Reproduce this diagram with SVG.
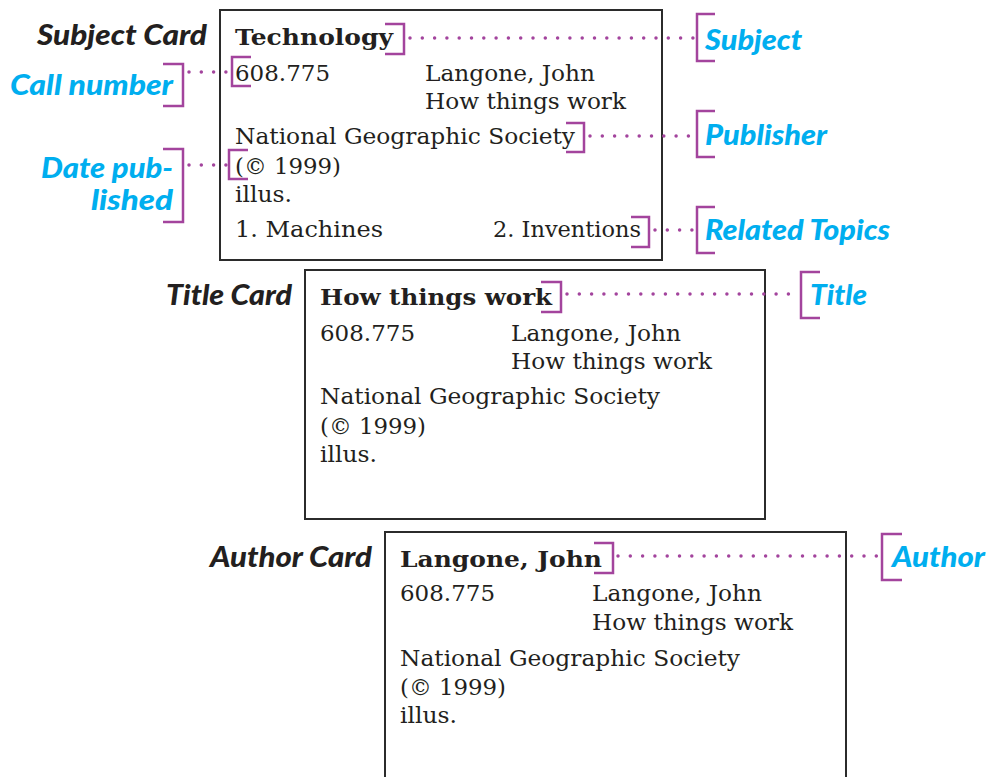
<svg xmlns="http://www.w3.org/2000/svg" width="988" height="777" viewBox="0 0 988 777">
  <style>
    .card { fill: #ffffff; stroke: #2b2b2b; stroke-width: 2; }
    .txt { font-family: "DejaVu Serif", "Liberation Serif", serif; font-size: 22.5px; fill: #231f20; }
    .head { font-family: "DejaVu Serif", "Liberation Serif", serif; font-size: 23px; font-weight: bold; fill: #231f20; }
    .kind { font-family: Lato, "Open Sans", sans-serif; font-size: 29px; font-weight: 900; font-style: italic; fill: #231f20; }
    .tag { font-family: Lato, "Open Sans", sans-serif; font-size: 29px; font-weight: 900; font-style: italic; fill: #00aeef; }
    .brk { fill: none; stroke: #a3449d; stroke-width: 2.5; }
    .dots { fill: none; stroke: #a3449d; stroke-width: 3.5; stroke-linecap: round; stroke-dasharray: 0 12.3; }
  </style>

  <!-- Subject card -->
  <g id="subject-card">
    <rect class="card" x="220" y="10" width="442" height="250"/>
    <text class="head" x="235" y="45" textLength="158" lengthAdjust="spacingAndGlyphs">Technology</text>
    <text class="txt" x="235" y="81" textLength="95" lengthAdjust="spacingAndGlyphs">608.775</text>
    <text class="txt" x="425" y="81" textLength="170" lengthAdjust="spacingAndGlyphs">Langone, John</text>
    <text class="txt" x="425" y="109" textLength="201" lengthAdjust="spacingAndGlyphs">How things work</text>
    <text class="txt" x="235" y="144" textLength="340" lengthAdjust="spacingAndGlyphs">National Geographic Society</text>
    <text class="txt" x="235" y="174" textLength="106" lengthAdjust="spacingAndGlyphs">(© 1999)</text>
    <text class="txt" x="235" y="202" textLength="57" lengthAdjust="spacingAndGlyphs">illus.</text>
    <text class="txt" x="235" y="237" textLength="148" lengthAdjust="spacingAndGlyphs">1. Machines</text>
    <text class="txt" x="493" y="237" textLength="148" lengthAdjust="spacingAndGlyphs">2. Inventions</text>
    <text class="kind" x="207" y="45" text-anchor="end" textLength="170" lengthAdjust="spacingAndGlyphs">Subject Card</text>
  </g>

  <!-- Title card -->
  <g id="title-card">
    <rect class="card" x="305" y="270" width="460" height="249"/>
    <text class="head" x="320" y="305" textLength="232" lengthAdjust="spacingAndGlyphs">How things work</text>
    <text class="txt" x="320" y="341" textLength="95" lengthAdjust="spacingAndGlyphs">608.775</text>
    <text class="txt" x="511" y="341" textLength="170" lengthAdjust="spacingAndGlyphs">Langone, John</text>
    <text class="txt" x="511" y="369" textLength="201" lengthAdjust="spacingAndGlyphs">How things work</text>
    <text class="txt" x="320" y="404" textLength="340" lengthAdjust="spacingAndGlyphs">National Geographic Society</text>
    <text class="txt" x="320" y="434" textLength="106" lengthAdjust="spacingAndGlyphs">(© 1999)</text>
    <text class="txt" x="320" y="462" textLength="57" lengthAdjust="spacingAndGlyphs">illus.</text>
    <text class="kind" x="292" y="305" text-anchor="end" textLength="126" lengthAdjust="spacingAndGlyphs">Title Card</text>
  </g>

  <!-- Author card -->
  <g id="author-card">
    <rect class="card" x="385" y="532" width="461" height="260"/>
    <text class="head" x="400" y="567" textLength="202" lengthAdjust="spacingAndGlyphs">Langone, John</text>
    <text class="txt" x="400" y="601" textLength="95" lengthAdjust="spacingAndGlyphs">608.775</text>
    <text class="txt" x="592" y="601" textLength="170" lengthAdjust="spacingAndGlyphs">Langone, John</text>
    <text class="txt" x="592" y="630" textLength="201" lengthAdjust="spacingAndGlyphs">How things work</text>
    <text class="txt" x="400" y="666" textLength="340" lengthAdjust="spacingAndGlyphs">National Geographic Society</text>
    <text class="txt" x="400" y="695" textLength="106" lengthAdjust="spacingAndGlyphs">(© 1999)</text>
    <text class="txt" x="400" y="723" textLength="57" lengthAdjust="spacingAndGlyphs">illus.</text>
    <text class="kind" x="372" y="567" text-anchor="end" textLength="162" lengthAdjust="spacingAndGlyphs">Author Card</text>
  </g>

  <!-- Callout labels -->
  <g id="label-call-number">
    <text class="tag" x="173" y="95" text-anchor="end" textLength="163" lengthAdjust="spacingAndGlyphs">Call number</text>
  </g>
  <g id="label-date">
    <text class="tag" x="173" y="178" text-anchor="end" textLength="132" lengthAdjust="spacingAndGlyphs">Date pub-</text>
    <text class="tag" x="173" y="210" text-anchor="end" textLength="82" lengthAdjust="spacingAndGlyphs">lished</text>
  </g>
  <g id="label-subject">
    <text class="tag" x="705" y="50" textLength="97" lengthAdjust="spacingAndGlyphs">Subject</text>
  </g>
  <g id="label-publisher">
    <text class="tag" x="705" y="145" textLength="122" lengthAdjust="spacingAndGlyphs">Publisher</text>
  </g>
  <g id="label-related">
    <text class="tag" x="705" y="240" textLength="185" lengthAdjust="spacingAndGlyphs">Related Topics</text>
  </g>
  <g id="label-title">
    <text class="tag" x="810" y="305" textLength="57" lengthAdjust="spacingAndGlyphs">Title</text>
  </g>
  <g id="label-author">
    <text class="tag" x="892" y="567" textLength="93" lengthAdjust="spacingAndGlyphs">Author</text>
  </g>

  <!-- Connectors: brackets and dotted leaders -->
  <g id="connectors">
    <!-- Call number -->
    <path class="brk" d="M163,64 H183 V106 H163"/>
    <path class="dots" d="M189,72 H229"/>
    <path class="brk" d="M251,57 H232 V86 H251"/>
    <!-- Date published -->
    <path class="brk" d="M163,149 H183 V222 H163"/>
    <path class="dots" d="M189,165 H227"/>
    <path class="brk" d="M248,150 H229 V179 H248"/>
    <!-- Subject -->
    <path class="brk" d="M385,24 H404 V54 H385"/>
    <path class="dots" d="M410,38 H694"/>
    <path class="brk" d="M715,14 H697 V61 H715"/>
    <!-- Publisher -->
    <path class="brk" d="M566,123 H584 V152 H566"/>
    <path class="dots" d="M590,136 H694"/>
    <path class="brk" d="M715,111 H697 V157 H715"/>
    <!-- Related Topics -->
    <path class="brk" d="M631,217 H649 V247 H631"/>
    <path class="dots" d="M655,230 H694"/>
    <path class="brk" d="M715,207 H697 V253 H715"/>
    <!-- Title -->
    <path class="brk" d="M541,282 H561 V312 H541"/>
    <path class="dots" d="M567,294 H798"/>
    <path class="brk" d="M820,272 H801 V318 H820"/>
    <!-- Author -->
    <path class="brk" d="M594,543 H613 V573 H594"/>
    <path class="dots" d="M618,556 H879"/>
    <path class="brk" d="M902,534 H882 V580 H902"/>
  </g>
</svg>
